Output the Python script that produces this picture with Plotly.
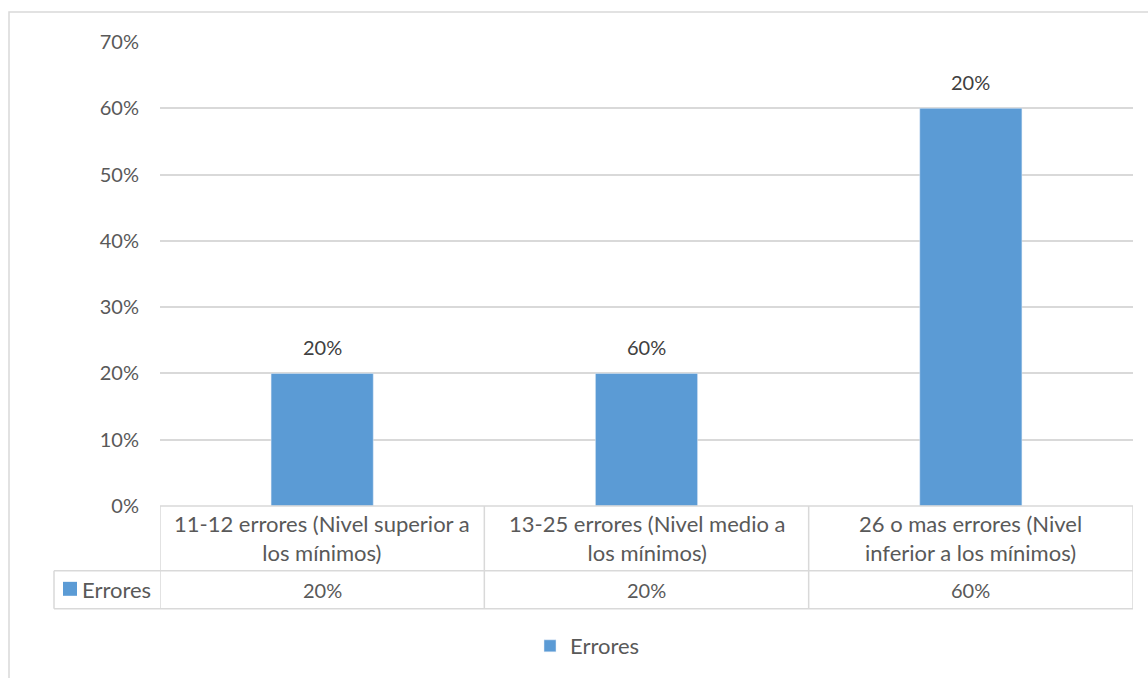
import plotly.graph_objects as go

categories = [
    "11-12 errores (Nivel superior a<br>los mínimos)",
    "13-25 errores (Nivel medio a<br>los mínimos)",
    "26 o mas errores (Nivel<br>inferior a los mínimos)",
]
values = [0.20, 0.20, 0.60]
bar_labels = ["20%", "60%", "20%"]
series_name = "Errores"
y_ticks = [0, 0.1, 0.2, 0.3, 0.4, 0.5, 0.6, 0.7]

BLUE = "#5B9BD5"
GRID = "#d9d9d9"
TXT = "#595959"
FONT = "Lato"
FS = 20      # numbers
FT = 22      # words

W, H = 1148, 678
L, R, T = 160, W - 1133, 42
B = H - 507
PH = H - T - B
PW = W - L - R


def py(p):  # reference pixel y -> paper y
    return (H - B - p) / PH


def px(p):  # reference pixel x -> paper x
    return (p - L) / PW


xs = list(range(len(categories)))

fig = go.Figure()
fig.add_trace(go.Bar(
    x=xs, y=values, name=series_name, marker_color=BLUE, width=0.315,
    showlegend=True, hoverinfo="skip",
))

shapes = []
line = dict(color=GRID, width=1.5)
y_top, y_mid, y_bot = 0, py(572), py(610)
shapes.append(dict(type="line", xref="x", yref="paper", x0=-0.5, x1=len(xs) - 0.5,
                   y0=y_top, y1=y_top, line=line))
shapes.append(dict(type="line", xref="paper", yref="paper", x0=px(54), x1=1,
                   y0=y_mid, y1=y_mid, line=line))
shapes.append(dict(type="line", xref="paper", yref="paper", x0=px(54), x1=1,
                   y0=y_bot, y1=y_bot, line=line))
for i in range(len(xs) + 1):
    shapes.append(dict(type="line", xref="x", yref="paper", x0=i - 0.5, x1=i - 0.5,
                       y0=y_top, y1=y_bot, line=line))
shapes.append(dict(type="line", xref="paper", yref="paper", x0=px(54), x1=px(54),
                   y0=y_mid, y1=y_bot, line=line))
shapes.append(dict(type="rect", xref="paper", yref="paper", x0=px(63), x1=px(77),
                   y0=py(597), y1=py(583), fillcolor=BLUE, line=dict(width=0)))
shapes.append(dict(type="rect", xref="paper", yref="paper", x0=px(9), x1=1.2,
                   y0=py(12), y1=-1.0, line=dict(color=GRID, width=1.5),
                   fillcolor="rgba(0,0,0,0)", layer="below"))

annotations = []
# data labels above bars
for i, (v, lab) in enumerate(zip(values, bar_labels)):
    annotations.append(dict(x=i, y=v, xref="x", yref="y", text=lab, showarrow=False,
                            yanchor="bottom", yshift=12,
                            font=dict(size=FS, color="#404040", family=FONT)))
for i, c in enumerate(categories):
    annotations.append(dict(x=i, y=py(539), xref="x", yref="paper", text=c,
                            showarrow=False, font=dict(size=FT, color=TXT, family=FONT),
                            align="center", yanchor="middle"))
    annotations.append(dict(x=i, y=py(591), xref="x", yref="paper",
                            text=f"{values[i]:.0%}", showarrow=False,
                            font=dict(size=FS, color=TXT, family=FONT), yanchor="middle"))
annotations.append(dict(x=px(80), y=py(591), xref="paper", yref="paper", text=series_name,
                        showarrow=False, xanchor="left", yanchor="middle",
                        font=dict(size=FT, color=TXT, family=FONT)))

fig.update_layout(
    width=W, height=H,
    margin=dict(l=L, r=R, t=T, b=B),
    paper_bgcolor="white", plot_bgcolor="white",
    font=dict(family=FONT, size=FS, color=TXT),
    shapes=shapes, annotations=annotations,
    showlegend=True,
    legend=dict(orientation="h", x=px(530), xanchor="left", y=py(646), yanchor="middle",
                font=dict(size=FT, color=TXT, family=FONT), itemwidth=30),
)
fig.update_xaxes(range=[-0.5, len(xs) - 0.5], showticklabels=False, showgrid=False,
                 zeroline=False, showline=False, fixedrange=True)
fig.update_yaxes(range=[0, 0.7], tickvals=y_ticks, tickformat=".0%", showgrid=True,
                 gridcolor=GRID, gridwidth=1.5, zeroline=False, showline=False,
                 ticklabelstandoff=20, tickfont=dict(size=FS, color=TXT, family=FONT))

fig.write_html("out.html", config={"displayModeBar": False},
               post_script="document.body.style.margin='0';document.body.style.overflow='hidden';")
